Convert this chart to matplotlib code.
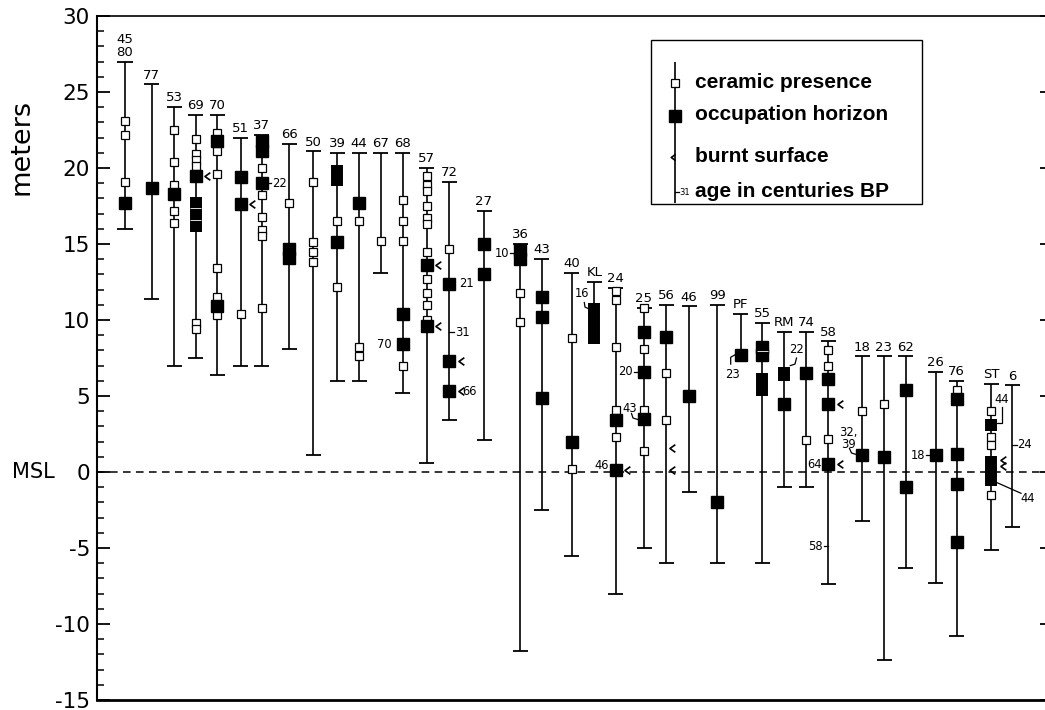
import matplotlib
matplotlib.use("Agg")
import matplotlib.pyplot as plt
from matplotlib.path import Path
from matplotlib.patches import Rectangle
from matplotlib.ticker import MultipleLocator

plt.rcParams['axes.unicode_minus'] = False
plt.rcParams['font.family'] = ['DejaVu Sans']

# --- sites (x = horizontal position along the transect) ---
site_labels = ["45\n80", "77", "53", "69", "70", "51", "37", "66", "50", "39", "44", "67", "68", "57",
               "72", "27", "36", "43", "40", "KL", "24", "25", "56", "46", "99", "PF", "55", "RM",
               "74", "58", "18", "23", "62", "26", "76", "ST", "6"]
site_x = [125, 151.7, 174.3, 195.7, 217.3, 240.7, 261.7, 289.3, 313.3, 337.3, 359, 380.7, 402.7,
          426.7, 449.3, 484, 520, 541.7, 571.7, 594.3, 615.7, 644, 666, 689, 717.3, 740.7, 762.3,
          784.3, 806, 828.3, 862.3, 884, 905.7, 935.7, 956.7, 991, 1012.3]
range_top = [27.0, 25.5, 24.0, 23.5, 23.5, 22.0, 22.2, 21.6, 21.1, 21.0, 21.0, 21.0, 21.0, 20.0,
             19.1, 17.2, 15.0, 14.0, 13.1, 12.5, 12.1, 10.8, 11.0, 10.9, 11.0, 10.4, 9.8, 9.2,
             9.2, 8.6, 7.6, 7.6, 7.6, 6.6, 6.0, 5.8, 5.7]
range_bottom = [16.0, 11.4, 7.0, 7.5, 6.4, 7.0, 7.0, 8.1, 1.1, 6.0, 6.0, 13.1, 5.2, 0.6,
                3.4, 2.1, -11.8, -2.5, -5.5, 8.4, -8.0, -5.0, -6.0, -1.3, -6.0, 7.7, -6.0, -1.0,
                -1.0, -7.4, -3.2, -12.4, -6.3, -7.3, -10.8, -5.1, -3.6]
no_bottom_cap = ["KL", "PF"]

ceramic = [[23.1, 22.2, 19.1], [], [22.5, 20.4, 18.9, 17.2, 16.4], [21.9, 20.9, 20.5, 20.1, 9.8, 9.4],
           [22.3, 21.1, 19.6, 13.4, 11.5, 10.3], [10.4], [20.0, 18.2, 16.8, 15.9, 15.5, 10.8], [17.7],
           [19.1, 15.1, 14.5, 13.8], [16.5, 12.2], [16.5, 8.2, 7.6], [15.2], [17.9, 16.5, 15.2, 7.0],
           [19.5, 18.9, 18.5, 17.5, 16.7, 16.3, 14.5, 12.7, 11.8, 11.0, 10.0], [14.7], [],
           [11.8, 9.9], [], [8.8, 0.2], [], [11.9, 11.3, 8.2, 4.1, 2.3], [10.8, 8.1, 4.1, 1.4],
           [6.5, 3.4], [], [], [], [], [], [2.1], [8.0, 7.0, 2.2], [4.0], [4.5], [], [], [5.4],
           [4.0, 2.3, 1.8, -1.5], []]
occupation = [[17.7], [18.7], [18.3], [19.5], [21.8, 10.9], [19.4, 17.6], [21.8, 21.1, 19.0],
              [14.7, 14.1], [], [15.1], [17.7], [], [10.4, 8.4], [13.6, 9.6], [12.4, 7.3, 5.3],
              [15.0, 13.0], [14.6, 14.0], [11.5, 10.2, 4.9], [2.0], [], [3.4, 0.1], [9.2, 6.6, 3.5],
              [8.9], [5.0], [-2.0], [7.7], [8.2, 7.7], [4.5], [6.5], [6.1, 4.5, 0.5], [1.1], [1.0],
              [5.4, -1.0], [1.1], [4.8, 1.2, -0.8, -4.6], [], []]

# thick occupation horizons (site index, lower, upper)
block_site = [3, 9, 19, 26, 27, 35, 35]
block_low = [15.8, 18.8, 8.4, 5.0, 6.0, 2.7, -0.9]
block_high = [18.1, 20.2, 11.1, 6.5, 6.9, 3.5, 1.05]

# thin breaks between stacked horizons (site index, level)
split_site = [3, 3, 26]
split_y = [17.4, 16.6, 7.95]

# burnt surfaces (site index, level)
burnt_site = [3, 5, 13, 13, 14, 14, 20, 22, 22, 29, 29, 35, 35]
burnt_y = [19.5, 17.6, 13.6, 9.6, 7.3, 5.3, 0.1, 1.6, 0.1, 4.5, 0.5, 0.8, 0.4]

# ages in centuries BP
age_text = ["22", "21", "31", "66", "70", "10", "16", "46", "20", "43", "23", "22", "64", "58",
            "32,\n39", "18", "44", "44", "24"]
age_site = [6, 14, 14, 14, 12, 16, 19, 20, 21, 21, 25, 27, 29, 29, 30, 33, 35, 35, 36]
age_y = [19.0, 12.4, 9.2, 5.3, 8.4, 14.4, 11.0, 0.1, 6.6, 3.5, 7.7, 7.0, 0.5, -4.9, 1.1, 1.1, 3.2, -0.7, 1.8]

# layout of the age labels: text position, alignment, leader line
age_tx = [272, 459, 455, 462.5, 392, 509, 582, 609, 633, 629.5, 733, 796, 822, 823, 848, 925,
          1002, 1028, 1017.5]
age_ty = [19.0, 12.4, 9.2, 5.3, 8.4, 14.4, 11.75, 0.45, 6.6, 4.2, 6.4, 8.05, 0.5, -4.9, 2.2, 1.1,
          4.75, -1.75, 1.8]
age_ha = ["left", "left", "left", "left", "right", "right", "center", "right", "right", "center",
          "center", "center", "right", "right", "center", "right", "center", "center", "left"]
age_leader = [[(267.7, 19.0), (271, 19.0)], None, [(449.3, 9.2), (454, 9.2)], None, None,
              [(510, 14.4), (514, 14.4)],
              [(584.3, 11.15), (585, 10.85), (588.3, 10.75)], None, [(634, 6.6), (638, 6.6)],
              [(631.5, 3.85), (633, 3.55), (638, 3.45)],
              [(730.7, 7.1), (730.7, 7.55), (734.7, 7.7)],
              [(796.5, 7.5), (795, 7.1), (790.3, 7.0)], None, [(823.5, -4.9), (828.3, -4.9)],
              [(849.5, 1.55), (851.5, 1.25), (856.3, 1.15)], [(925.5, 1.1), (929.7, 1.1)],
              [(997, 3.2), (1002, 3.2), (1002, 4.25)], [(997, -0.7), (1021, -1.4)],
              [(1012.3, 1.8), (1016.8, 1.8)]]

chevron = Path([(1.0, 1.0), (-0.4, 0.0), (1.0, -1.0)], [Path.MOVETO, Path.LINETO, Path.LINETO])

fig = plt.figure(figsize=(10.45, 7.1), dpi=100)
ax = fig.add_axes([97 / 1045, 10 / 710, (1052 - 97) / 1045, 684 / 710])
ax.set_xlim(97, 1052)
ax.set_ylim(-15, 30)

# mean sea level
ax.axhline(0, color='black', lw=1.1, ls=(0, (5, 3.5)), zorder=1)

cap = 7.5
for i, x in enumerate(site_x):
    ax.vlines(x, range_bottom[i], range_top[i], color='black', lw=1.2, zorder=2)
    ax.hlines(range_top[i], x - cap, x + cap, color='black', lw=1.3, zorder=2)
    if site_labels[i] not in no_bottom_cap:
        ax.hlines(range_bottom[i], x - cap, x + cap, color='black', lw=1.3, zorder=2)
    ax.annotate(site_labels[i], (x, range_top[i]), xytext=(0, 2), textcoords='offset points',
                ha='center', va='bottom', fontsize=9.5, linespacing=1.0)
    if ceramic[i]:
        ax.plot([x] * len(ceramic[i]), ceramic[i], ls='none', marker='s', ms=5.5, mfc='white',
                mec='black', mew=0.9, zorder=3)
    if occupation[i]:
        ax.plot([x] * len(occupation[i]), occupation[i], ls='none', marker='s', ms=9,
                mfc='black', mec='black', zorder=4)

for s, lo, hi in zip(block_site, block_low, block_high):
    ax.vlines(site_x[s], lo, hi, color='black', lw=8.6, capstyle='butt', zorder=4)

for s, y in zip(split_site, split_y):
    ax.hlines(y, site_x[s] - 5.5, site_x[s] + 5.5, color='white', lw=0.6, zorder=4.5)

for s, y in zip(burnt_site, burnt_y):
    dx = 4.5 if s == 22 else 10.5
    ax.plot(site_x[s] + dx, y, ls='none', marker=chevron, ms=5.5, mew=1.2, mec='black',
            fillstyle='none', zorder=5)

for k, txt in enumerate(age_text):
    ax.text(age_tx[k], age_ty[k], txt, ha=age_ha[k], va='center', fontsize=8.3, linespacing=0.95,
            zorder=6)
    if age_leader[k]:
        xs, ys = zip(*age_leader[k])
        ax.plot(xs, ys, color='black', lw=0.9, zorder=5)

# legend box
ax.add_patch(Rectangle((651, 17.6), 271, 10.8, fill=False, lw=1.0, ec='black', zorder=6))
ax.vlines(675, 17.7, 27.0, color='black', lw=1.2, zorder=6)
ax.plot(675, 25.6, ls='none', marker='s', ms=5.5, mfc='white', mec='black', mew=0.9, zorder=7)
ax.plot(675, 23.4, ls='none', marker='s', ms=9, mfc='black', mec='black', zorder=7)
ax.plot(671.5, 20.7, ls='none', marker=chevron, ms=4.5, mew=1.2, mec='black', fillstyle='none',
        zorder=7)
ax.plot([675, 678.5], [18.4, 18.4], color='black', lw=0.9, zorder=7)
ax.text(679, 18.4, "31", fontsize=6, va='center', ha='left', zorder=7)
legend_text = ["ceramic presence", "occupation horizon", "burnt surface", "age in centuries BP"]
legend_y = [25.6, 23.5, 20.75, 18.45]
for t, y in zip(legend_text, legend_y):
    ax.text(695, y, t, fontsize=15, fontweight='bold', family='Liberation Sans', va='center',
            ha='left', zorder=7)

# axes styling
ax.set_xticks([])
ax.yaxis.set_major_locator(MultipleLocator(5))
ax.yaxis.set_minor_locator(MultipleLocator(1))
ax.tick_params(axis='y', which='major', direction='in', length=9, width=1.3, left=True,
               right=True, labelsize=15.5, pad=5)
ax.tick_params(axis='y', which='minor', direction='in', length=5, width=1.1, left=True,
               right=False)
ax.spines['left'].set_linewidth(1.5)
ax.spines['bottom'].set_linewidth(2.0)
ax.spines['top'].set_linewidth(1.2)
ax.spines['right'].set_linewidth(1.0)

fig.text(22 / 1045, 1 - 147 / 710, "meters", rotation=90, fontsize=19.5, ha='center', va='center')
fig.text(12 / 1045, 1 - 472 / 710, "MSL", fontsize=15, ha='left', va='center')

fig.savefig("out.png", dpi=100)
